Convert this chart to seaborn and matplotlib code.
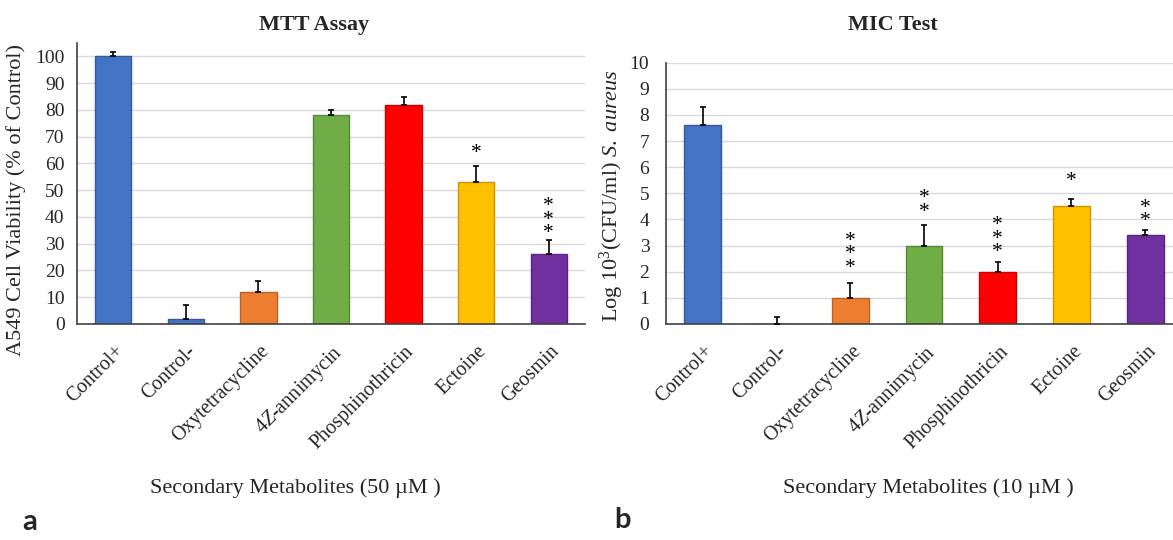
import matplotlib
matplotlib.use("Agg")
import matplotlib.pyplot as plt
import matplotlib.transforms as mtransforms
from matplotlib.colors import to_rgb
import numpy as np
import pandas as pd
import seaborn as sns

# ------------------------------------------------------------
# Data
# ------------------------------------------------------------
metabolites = ["Control+", "Control-", "Oxytetracycline", r"$\mathit{4Z}$-annimycin",
               "Phosphinothricin", "Ectoine", "Geosmin"]
bar_colors = ["#4472C4", "#4472C4", "#ED7D31", "#70AD47", "#FF0000", "#FFC000", "#7030A0"]

mtt_viability = [100, 2, 12, 78, 82, 53, 26]
mtt_error = [1.8, 5.0, 4.0, 2.0, 3.0, 6.0, 5.5]
mtt_stars = [0, 0, 0, 0, 0, 1, 3]
mtt_star_base = [None, None, None, None, None, 66, 36]

mic_log_cfu = [7.6, 0.0, 1.0, 3.0, 2.0, 4.5, 3.4]
mic_error = [0.7, 0.25, 0.55, 0.8, 0.38, 0.28, 0.2]
mic_stars = [0, 0, 3, 2, 3, 1, 2]
mic_star_base = [None, None, 2.36, 4.5, 2.96, 5.67, 4.14]

sns.set_style("white")
plt.rcParams["font.family"] = ["Liberation Serif", "DejaVu Serif"]
plt.rcParams["mathtext.fontset"] = "custom"
plt.rcParams["mathtext.rm"] = "Liberation Serif"
plt.rcParams["mathtext.it"] = "Liberation Serif:italic"
plt.rcParams["mathtext.bf"] = "Liberation Serif:bold"

W, H = 1173, 540
fig = plt.figure(figsize=(W / 100, H / 100), dpi=100)
fig.patch.set_facecolor("white")


def px_axes(x0, x1, ytop, ybot):
    return fig.add_axes([x0 / W, 1 - ybot / H, (x1 - x0) / W, (ybot - ytop) / H])


def darker(c, f=0.78):
    r, g, b = to_rgb(c)
    return (r * f, g * f, b * f)


def draw_panel(ax, values, errors, stars, star_base, ylim, yticks, ypad):
    df = pd.DataFrame({"metabolite": metabolites, "value": values})
    sns.barplot(data=df, x="metabolite", y="value", hue="metabolite",
                palette=bar_colors, width=0.5, saturation=1, legend=False, ax=ax)
    for patch, c in zip(ax.patches, bar_colors):
        patch.set_edgecolor(darker(c))
        patch.set_linewidth(1.0)

    xs = np.arange(len(values))
    ax.errorbar(xs, values, yerr=[np.zeros(len(values)), errors], fmt="none",
                ecolor="black", elinewidth=1.2, capsize=2.5, capthick=1.2, zorder=4)

    # significance asterisks, stacked vertically, lowest one centred at star_base
    for i, (n, base) in enumerate(zip(stars, star_base)):
        if n == 0:
            continue
        ax.annotate("\n".join(["*"] * n), xy=(i, base), xytext=(0, -11),
                    textcoords="offset points", ha="center", va="bottom",
                    fontsize=15.5, linespacing=0.6, color="black")

    ax.set_xlim(-0.5, len(values) - 0.5)
    ax.set_ylim(*ylim)
    ax.set_yticks(yticks)
    ax.yaxis.grid(True, color="#d9d9d9", linewidth=1.0)
    ax.xaxis.grid(False)
    ax.set_axisbelow(True)
    for s in ["top", "right"]:
        ax.spines[s].set_visible(False)
    for s in ["left", "bottom"]:
        ax.spines[s].set_color("#404040")
        ax.spines[s].set_linewidth(1.2)
    ax.tick_params(axis="y", length=0, pad=ypad, labelsize=14)
    ax.tick_params(axis="x", length=0, pad=13, labelsize=14.5)
    ax.set_xlabel("")
    ax.set_ylabel("")
    offset = mtransforms.ScaledTranslation(1 / 100, 0, fig.dpi_scale_trans)
    for lab in ax.get_xticklabels():
        lab.set_rotation(45)
        lab.set_ha("right")
        lab.set_va("top")
        lab.set_rotation_mode("anchor")
        lab.set_transform(lab.get_transform() + offset)


# ---------------- panel a: MTT assay ----------------
ax1 = px_axes(77, 585, 43, 324)
draw_panel(ax1, mtt_viability, mtt_error, mtt_stars, mtt_star_base,
           (0, 105), range(0, 101, 10), 9)
ax1.set_ylabel("A549 Cell Viability (% of Control)", fontsize=16)
ax1.yaxis.set_label_coords(-0.1, 0.44)

# ---------------- panel b: MIC test ----------------
ax2 = px_axes(666, 1182, 62.7, 324)
draw_panel(ax2, mic_log_cfu, mic_error, mic_stars, mic_star_base,
           (0, 10), range(0, 11, 1), 12)
ax2.set_ylabel(r"Log 10$^{3}$(CFU/ml) $\mathit{S.}$ $\mathit{aureus}$", fontsize=16)
ax2.yaxis.set_label_coords(-0.078, 0.49)

# titles, axis captions and panel letters
fig.text(314 / W, 1 - 25 / H, "MTT Assay", ha="center", va="center",
         fontsize=16, fontweight="bold")
fig.text(893 / W, 1 - 25 / H, "MIC Test", ha="center", va="center",
         fontsize=16, fontweight="bold")
fig.text(295 / W, 1 - 488 / H, "Secondary Metabolites (50 µM )", ha="center",
         va="center", fontsize=16)
fig.text(928 / W, 1 - 488 / H, "Secondary Metabolites (10 µM )", ha="center",
         va="center", fontsize=16)
fig.text(30 / W, 1 - 522 / H, "a", ha="center", va="center", fontsize=21,
         fontweight="bold", family=["Lato", "DejaVu Sans"])
fig.text(622 / W, 1 - 520 / H, "b", ha="center", va="center", fontsize=21,
         fontweight="bold", family=["Lato", "DejaVu Sans"])

fig.savefig("out.png", dpi=100, facecolor="white")
